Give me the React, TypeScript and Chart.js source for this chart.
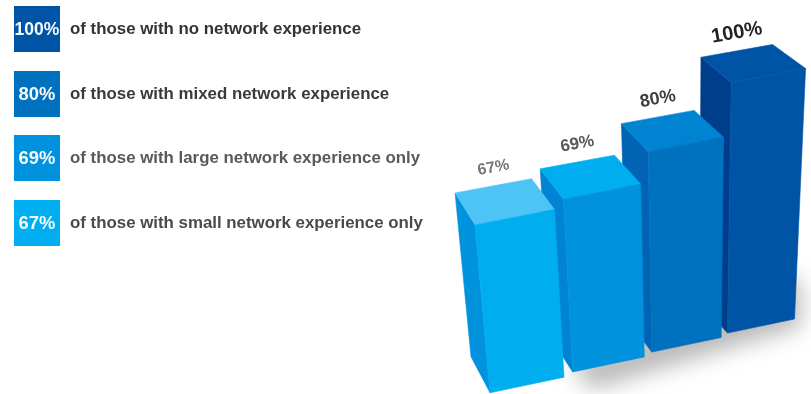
import React, { useEffect, useRef } from "react";
import { Chart, registerables } from "chart.js";

Chart.register(...registerables);

const categories = ["small network experience only", "large network experience only", "mixed network experience", "no network experience"];
const values = [67, 69, 80, 100];
const frontColors = ["#00aeef", "#0092dd", "#0071bf", "#0054a6"];
const topColors = ["#4dc3f6", "#00aeef", "#0083d0", "#0054a6"];
const sideColors = ["#0092dd", "#0083d2", "#0063b4", "#003e8c"];
const labelColors = ["#777777", "#58595b", "#3f4042", "#222222"];
const labelSizes = [16, 17, 18, 20];

const legendPercents = ["100%", "80%", "69%", "67%"];
const legendTexts = [
  "of those with no network experience",
  "of those with mixed network experience",
  "of those with large network experience only",
  "of those with small network experience only",
];
const legendBoxColors = ["#0054a6", "#0071bf", "#0092dd", "#00aeef"];
const legendTextColors = ["#333333", "#3a3a3c", "#58595b", "#4a4a4c"];

type P = [number, number];

const leanAt = (x: number) => -0.089 + 0.0004375 * (x - 490);
const depthAt = (x: number, y: number): P => [
  -5.35 - 0.0351 * x + 0.00903 * y,
  -32.4 + 0.01253 * x - 0.02478 * y,
];

const poly = (ctx: CanvasRenderingContext2D, pts: P[], color: string, seal = true) => {
  ctx.beginPath();
  pts.forEach((p, i) => (i ? ctx.lineTo(p[0], p[1]) : ctx.moveTo(p[0], p[1])));
  ctx.closePath();
  ctx.fillStyle = color;
  ctx.fill();
  if (seal) {
    ctx.strokeStyle = color;
    ctx.lineWidth = 0.6;
    ctx.lineJoin = "round";
    ctx.stroke();
  }
};

const bars3d = {
  id: "bars3d",
  beforeDatasetsDraw(chart: any) {
    const ctx: CanvasRenderingContext2D = chart.ctx;
    const area = chart.chartArea;
    const bars = chart.getDatasetMeta(0).data;

    const geom = bars.map((b: any) => {
      const t = (b.x - area.left) / area.width;
      const d = t - 0.125;
      const cx = 527 + 333 * d - 28 * d * d;
      const cy = 385 - 0.252 * (cx - 527);
      const w = (b.width / area.width) * (334 - 41.3 * t);
      const h = ((b.base - b.y) / area.height) * 250.5;
      const lx = cx - w / 2;
      const rx = cx + w / 2;
      const bl: P = [lx, cy + (0.21 * w) / 2];
      const br: P = [rx, cy - (0.21 * w) / 2];
      const tl: P = [lx + leanAt(lx) * h, bl[1] - h];
      const tr: P = [rx + leanAt(rx) * h, br[1] - h];
      return { bl, br, tl, tr };
    });

    // ground shadow
    ctx.save();
    const g0 = geom[0];
    const g3 = geom[geom.length - 1];
    ctx.filter = "blur(11px)";
    poly(
      ctx,
      [
        [g0.br[0] + 6, g0.br[1] - 12],
        [g3.br[0] - 6, g3.br[1] - 40],
        [g3.br[0] + 6, g3.br[1] - 40],
        [g3.br[0] + 6, g3.br[1] + 8],
        [g0.br[0] + 28, g0.br[1] + 12],
      ],
      "rgba(120,120,120,0.52)",
      false,
    );
    ctx.restore();

    // right to left, so that nearer bars cover the side of the next one
    for (let i = geom.length - 1; i >= 0; i--) {
      const { bl, br, tl, tr } = geom[i];
      const off = (p: P): P => {
        const [dx, dy] = depthAt(p[0], p[1]);
        return [p[0] + dx, p[1] + dy];
      };
      poly(ctx, [tl, off(tl), off(bl), bl], sideColors[i]);
      poly(ctx, [tl, tr, off(tr), off(tl)], topColors[i]);
      poly(ctx, [tl, tr, br, bl], frontColors[i]);
      const bk1 = off(tl);
      const bk2 = off(tr);
      ctx.save();
      ctx.translate((bk1[0] + bk2[0]) / 2, (bk1[1] + bk2[1]) / 2 - 18);
      ctx.rotate(Math.atan2(bk2[1] - bk1[1], bk2[0] - bk1[0]));
      ctx.font = `bold ${labelSizes[i]}px "Liberation Sans"`;
      ctx.textAlign = "center";
      ctx.textBaseline = "middle";
      ctx.fillStyle = labelColors[i];
      ctx.fillText(`${values[i]}%`, 0, 0);
      ctx.restore();
    }
    return false;
  },
};

export default function App() {
  const ref = useRef<HTMLCanvasElement>(null);
  useEffect(() => {
    const chart = new Chart(ref.current!, {
      type: "bar",
      data: {
        labels: categories,
        datasets: [{ data: values, backgroundColor: frontColors, barPercentage: 0.9, categoryPercentage: 1 }],
      },
      options: {
        animation: false,
        responsive: false,
        layout: { padding: 0 },
        plugins: { legend: { display: false }, tooltip: { enabled: false } },
        scales: {
          x: { display: false },
          y: { display: false, min: 0, max: 100 },
        },
      },
      plugins: [bars3d],
    } as any);
    return () => chart.destroy();
  }, []);

  return (
    <div style={{ position: "absolute", left: 0, top: 0, width: 811, height: 394, overflow: "hidden", background: "#fff", filter: "blur(0.35px)" }}>
      <canvas ref={ref} width={811} height={394} style={{ position: "absolute", left: 0, top: 0 }} />
      {legendPercents.map((p, i) => (
        <div key={i} style={{ position: "absolute", left: 14, top: 6 + i * 64.5, height: 46, display: "flex", alignItems: "center", fontFamily: '"Liberation Sans"', fontWeight: 700 }}>
          <div style={{ width: 46, height: 46, background: legendBoxColors[i], color: "#f4f9fd", fontSize: i === 0 ? 17.5 : 18.4, lineHeight: "46px", textAlign: "center", whiteSpace: "nowrap" }}>{p}</div>
          <div style={{ marginLeft: 10, fontSize: 16.85, color: legendTextColors[i], whiteSpace: "nowrap" }}>{legendTexts[i]}</div>
        </div>
      ))}
    </div>
  );
}
